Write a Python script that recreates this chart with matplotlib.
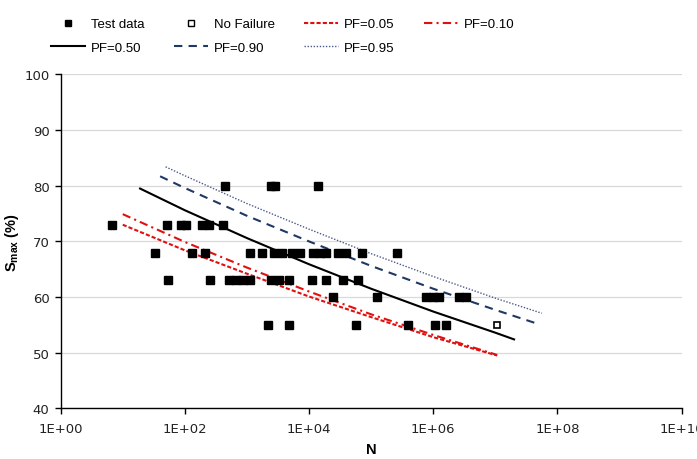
import matplotlib
matplotlib.use("Agg")
import matplotlib.pyplot as plt
from matplotlib.lines import Line2D

# ---------------- data ----------------
# Test data: S_max levels and the fatigue lives N observed at each level
s_levels = [80, 73, 68, 63, 60, 55]
n_at_80 = [447, 2450, 2880, 14100]
n_at_73 = [6.8, 51, 87, 105, 190, 245, 417]
n_at_68 = [33, 132, 214, 1100, 1780, 2750, 3700, 5400, 7250, 11750,
           15100, 19000, 28800, 38900, 72400, 257000]
n_at_63 = [54, 257, 513, 676, 871, 1120, 2450, 3310, 4680, 10960,
           19050, 34700, 60300]
n_at_60 = [24000, 123000, 759000, 977000, 1260000, 2570000, 3310000]
n_at_55 = [2190, 4790, 56200, 389000, 1050000, 1620000]
test_n = [n_at_80, n_at_73, n_at_68, n_at_63, n_at_60, n_at_55]

# run-out (no failure)
nofail_n = [1.05e7]
nofail_s = [55]

# probability-of-failure curves
pf05_n = [10, 1e2, 1e3, 1e4, 1e5, 1e6, 1.07e7]
pf05_s = [73.0, 68.4, 64.2, 60.1, 56.4, 52.8, 49.5]
pf10_n = [10, 1e2, 1e3, 1e4, 1e5, 1e6, 1.07e7]
pf10_s = [74.9, 69.9, 65.3, 61.0, 56.9, 53.2, 49.6]
pf50_n = [19, 1e2, 1e3, 1e4, 1e5, 1e6, 1e7, 2e7]
pf50_s = [79.5, 75.6, 70.6, 65.9, 61.5, 57.4, 53.6, 52.4]
pf90_n = [40, 1e2, 1e3, 1e4, 1e5, 1e6, 1e7, 4.5e7]
pf90_s = [81.7, 79.6, 74.6, 70.0, 65.6, 61.5, 57.7, 55.3]
pf95_n = [49, 1e2, 1e3, 1e4, 1e5, 1e6, 1e7, 5.6e7]
pf95_s = [83.4, 81.8, 76.8, 72.2, 67.8, 63.7, 59.8, 57.1]

x_ticks = [1e0, 1e2, 1e4, 1e6, 1e8, 1e10]
x_tick_labels = ["1E+00", "1E+02", "1E+04", "1E+06", "1E+08", "1E+10"]
y_ticks = [40, 50, 60, 70, 80, 90, 100]

# ---------------- fonts ----------------
plt.rcParams["mathtext.fontset"] = "custom"
plt.rcParams["mathtext.rm"] = "Liberation Sans"
plt.rcParams["mathtext.bf"] = "Liberation Sans:bold"

RED = "#E01010"
NAVY = "#1F3864"
DOT = "#4A5A8A"

fig = plt.figure(figsize=(6.97, 4.6), dpi=100)
ax = fig.add_axes([0.087, 0.110, 0.891, 0.726])

# grid
ax.set_axisbelow(True)
ax.yaxis.grid(True, color="#D9D9D9", linewidth=0.9)
ax.xaxis.grid(False)

# curves
l05, = ax.plot(pf05_n, pf05_s, color=RED, lw=1.5, dashes=(2.0, 1.0), label="PF=0.05")
l10, = ax.plot(pf10_n, pf10_s, color=RED, lw=1.5, dashes=(4.0, 2.0, 1.0, 2.0), label="PF=0.10")
l50, = ax.plot(pf50_n, pf50_s, color="black", lw=1.5, label="PF=0.50")
l90, = ax.plot(pf90_n, pf90_s, color=NAVY, lw=1.5, dashes=(4.0, 3.0), label="PF=0.90")
l95, = ax.plot(pf95_n, pf95_s, color=DOT, lw=1.0, dashes=(1.0, 1.2), label="PF=0.95")

# test data
for s, ns in zip(s_levels, test_n):
    ax.plot(ns, [s] * len(ns), linestyle="none", marker="s", markersize=5.2,
            color="black", zorder=5)
ax.plot(nofail_n, nofail_s, linestyle="none", marker="s", markersize=5,
        markerfacecolor="white", markeredgecolor="black", markeredgewidth=1.2, zorder=5)

ax.set_xscale("log")
ax.set_xlim(1, 1e10)
ax.set_ylim(40, 100)
ax.set_xticks(x_ticks)
ax.set_xticklabels(x_tick_labels)
ax.minorticks_off()
ax.set_yticks(y_ticks)

for side in ["top", "right"]:
    ax.spines[side].set_visible(False)
for side in ["left", "bottom"]:
    ax.spines[side].set_color("black")
    ax.spines[side].set_linewidth(1.0)

ax.tick_params(axis="both", direction="out", length=4, width=1, color="black",
               labelsize=9.5, labelcolor="#222222")
ax.tick_params(axis="x", pad=6)
ax.tick_params(axis="y", pad=4)

ax.set_xlabel("N", fontsize=10.5, fontweight="bold", family="Liberation Sans", labelpad=5)
ax.set_ylabel(r"S$_{\mathbf{max}}$ (%)", fontsize=10.5, fontweight="bold",
              family="Liberation Sans")
ax.yaxis.set_label_coords(-0.064, 0.5)

# legend (column-major order so rows read left->right)
h_td = Line2D([], [], linestyle="none", marker="s", markersize=5, color="black")
h_nf = Line2D([], [], linestyle="none", marker="s", markersize=4,
              markerfacecolor="white", markeredgecolor="black", markeredgewidth=1.0)
handles = [h_td, l50, h_nf, l90, l05, l95, l10]
labels = ["Test data", "PF=0.50", "No Failure", "PF=0.90", "PF=0.05", "PF=0.95", "PF=0.10"]
fig.legend(handles, labels, ncol=4, loc="upper left",
           bbox_to_anchor=(51 / 697, 1 - 19 / 460), frameon=False,
           prop={"family": "Liberation Sans", "size": 9.5},
           handlelength=2.6, handletextpad=0.45, columnspacing=2.2,
           labelspacing=0.85, borderpad=0, borderaxespad=0)

fig.savefig("out.png", dpi=100)
